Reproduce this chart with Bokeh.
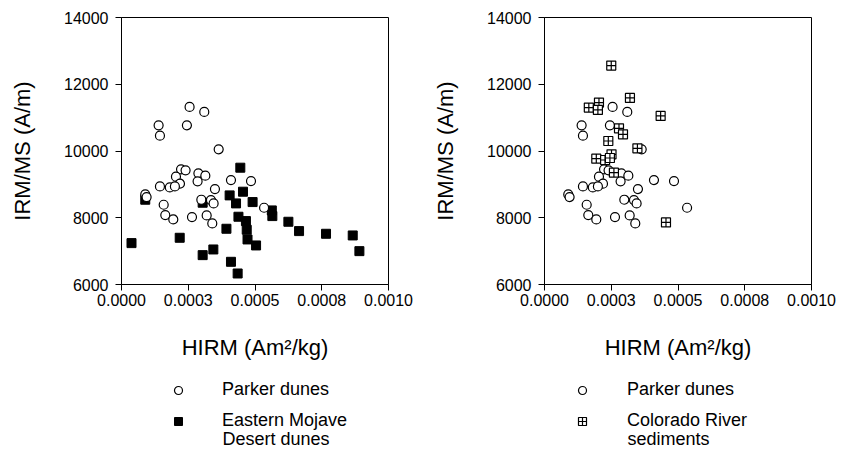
from bokeh.plotting import figure
from bokeh.models import Range1d, FixedTicker, Legend, LegendItem, Label
from bokeh.layouts import row, column
from bokeh.embed import file_html
from bokeh.resources import INLINE

# Parker dunes (HIRM in Am^2/kg, IRM/MS in A/m)
parker_hirm = [0.000255, 0.000310, 0.000139, 0.000245, 0.000144, 0.000364, 0.000223,
               0.000240, 0.000204, 0.000288, 0.000314, 0.000285, 0.000219, 0.000144,
               0.000181, 0.000200, 0.000410, 0.000485, 0.000350, 0.000089, 0.000094,
               0.000299, 0.000335, 0.000345, 0.000158, 0.000534, 0.000164, 0.000194,
               0.000264, 0.000319, 0.000340]
parker_irm = [11320, 11170, 10770, 10770, 10460, 10050, 9450,
              9420, 9230, 9330, 9260, 9090, 9020, 8940,
              8910, 8940, 9130, 9100, 8860, 8700, 8620,
              8540, 8530, 8430, 8390, 8300, 8080, 7950,
              8020, 8070, 7830]

# Eastern Mojave Desert dunes
mojave_hirm = [0.0000375, 0.000089, 0.000218, 0.000304, 0.000344, 0.000304, 0.000405,
               0.000455, 0.000445, 0.000429, 0.000491, 0.000393, 0.000438, 0.000466,
               0.000469, 0.000472, 0.000504, 0.000410, 0.000435, 0.000563, 0.000565,
               0.000625, 0.000665, 0.000766, 0.000866, 0.000891]
mojave_irm = [7240, 8540, 7400, 6880, 7050, 8450, 8670,
              8780, 9500, 8430, 8470, 7670, 8030, 7900,
              7640, 7350, 7170, 6680, 6330, 8220, 8050,
              7880, 7600, 7520, 7470, 7000]

# Colorado River sediments
colorado_hirm = [0.000250, 0.000204, 0.000166, 0.000200, 0.000320, 0.000435, 0.000279,
                 0.000294, 0.000239, 0.000348, 0.000194, 0.000227, 0.000251, 0.000245,
                 0.000260, 0.000455]
colorado_irm = [12560, 11450, 11300, 11230, 11590, 11050, 10680,
                10500, 10300, 10080, 9770, 9730, 9900, 9790,
                9350, 7860]

x_ticks = [0.0, 0.00025, 0.0005, 0.00075, 0.001]
x_tick_labels = ["0.0000", "0.0003", "0.0005", "0.0008", "0.0010"]
y_ticks = [6000, 8000, 10000, 12000, 14000]

legend_left = ["Parker dunes", "Eastern Mojave"]
legend_left_cont = "Desert dunes"
legend_right = ["Parker dunes", "Colorado River"]
legend_right_cont = "sediments"

FONT = "Liberation Sans"
NAN = float("nan")

CIRCLE = dict(marker="circle", size=9, fill_color="white", line_color="black", line_width=1.2)
SQUARE = dict(marker="square", size=9, fill_color="black", line_color="black")
SQCROSS = dict(marker="square_cross", size=9, fill_color="white", line_color="black", line_width=1.2)


def make_fig(width, left, right):
    p = figure(width=width, height=375, output_backend="svg", toolbar_location=None,
               x_range=Range1d(0, 0.001), y_range=Range1d(6000, 14000),
               min_border_left=left, min_border_right=right,
               min_border_top=17, min_border_bottom=91)
    p.grid.visible = False
    p.outline_line_color = "black"
    p.outline_line_width = 1
    p.background_fill_color = "white"
    p.border_fill_color = "white"
    p.xaxis.ticker = FixedTicker(ticks=x_ticks)
    p.xaxis.major_label_overrides = {t: l for t, l in zip(x_ticks, x_tick_labels)}
    p.yaxis.ticker = FixedTicker(ticks=y_ticks)
    for ax in (p.xaxis, p.yaxis):
        ax.axis_line_color = "black"
        ax.major_tick_line_color = "black"
        ax.minor_tick_line_color = None
        ax.major_tick_in = 0
        ax.major_tick_out = 6
        ax.major_label_text_font = FONT
        ax.major_label_text_font_size = "16px"
        ax.major_label_text_color = "black"
        ax.axis_label_text_font = FONT
        ax.axis_label_text_font_size = "22px"
        ax.axis_label_text_font_style = "normal"
        ax.axis_label_text_color = "black"
    p.xaxis.axis_label = "HIRM (Am²/kg)"
    p.yaxis.axis_label = "IRM/MS (A/m)"
    p.xaxis.major_label_standoff = 3
    p.yaxis.major_label_standoff = 7
    p.xaxis.axis_label_standoff = 26
    p.yaxis.axis_label_standoff = 26
    return p


def make_legend_fig(width, labels, cont, styles, glyph_x, standoff):
    lf = figure(width=width, height=76, output_backend="svg", toolbar_location=None,
                x_range=Range1d(0, 1), y_range=Range1d(0, 1),
                x_axis_type=None, y_axis_type=None,
                min_border_left=0, min_border_right=0, min_border_top=0, min_border_bottom=0)
    lf.grid.visible = False
    lf.outline_line_color = None
    items = []
    for lab, st in zip(labels, styles):
        # legend-only renderer (no visible data point)
        r = lf.scatter(x=[NAN], y=[NAN], **st)
        items.append(LegendItem(label=lab, renderers=[r]))
    leg = Legend(items=items, location=(glyph_x, 20))
    leg.border_line_color = None
    leg.background_fill_alpha = 0
    leg.label_text_font = FONT
    leg.label_text_font_size = "18px"
    leg.label_text_line_height = 1.0
    leg.label_text_color = "black"
    leg.label_standoff = standoff
    leg.glyph_width = 20
    leg.glyph_height = 20
    leg.spacing = 10
    leg.padding = 0
    leg.margin = 0
    lf.add_layout(leg, "center")
    lf.add_layout(Label(x=glyph_x + 20 + standoff, y=13, x_units="screen", y_units="screen",
                        text=cont, text_font=FONT, text_font_size="18px",
                        text_color="black", text_baseline="middle", text_align="left"))
    return lf


# Left panel
p1 = make_fig(420, 121, 32)
p1.scatter(mojave_hirm, mojave_irm, **SQUARE)
p1.scatter(parker_hirm, parker_irm, **CIRCLE)
l1 = make_legend_fig(420, legend_left, legend_left_cont, [CIRCLE, SQUARE], 168, 34)

# Right panel
p2 = make_fig(421, 124, 30)
p2.scatter(parker_hirm, parker_irm, **CIRCLE)
p2.scatter(colorado_hirm, colorado_irm, **SQCROSS)
l2 = make_legend_fig(421, legend_right, legend_right_cont, [CIRCLE, SQCROSS], 152, 35)

layout = column(row(p1, p2), row(l1, l2))
open("out.html", "w").write(file_html(layout, INLINE))
